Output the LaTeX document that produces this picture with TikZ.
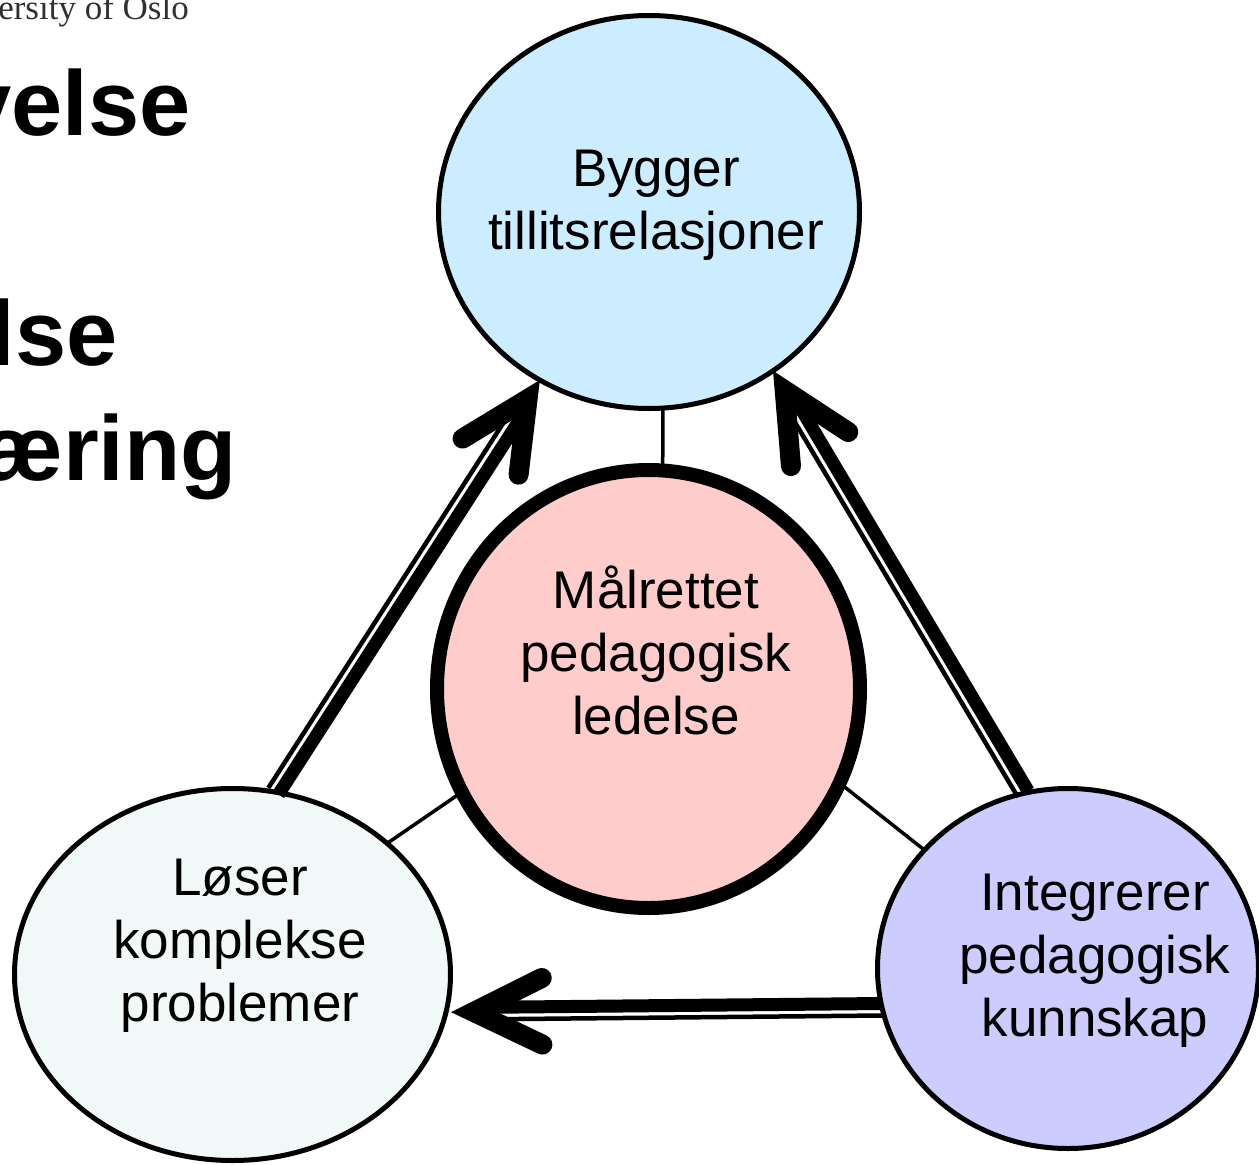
\documentclass[tikz,border=0pt]{standalone}
\usepackage{fontspec}
\setmainfont{Liberation Sans}
\newfontfamily\oslofont{Liberation Serif}
\usetikzlibrary{shapes.geometric,calc}
\definecolor{topfill}{HTML}{CCECFF}
\definecolor{midfill}{HTML}{FFCCCC}
\definecolor{leftfill}{HTML}{F0F8F8}
\definecolor{rightfill}{HTML}{CCCCFF}
\definecolor{oslogray}{HTML}{303030}
\tikzset{
  bubble/.style={ellipse, draw=black, inner sep=0pt, outer sep=0pt},
  link/.style={draw=black, line width=3.5pt},
  thickln/.style={draw=black, line width=13pt},
  thinln/.style={draw=black, line width=4.5pt},
  headln/.style={draw=black, line width=20pt, line cap=round, line join=miter},
  lbl/.style={anchor=base, inner sep=0pt, font=\fontsize{53}{63}\selectfont},
  bigtxt/.style={anchor=base east, inner sep=0pt, font=\fontsize{92}{110}\selectfont\bfseries},
}
\newcommand\dblarrow[2]{%
  \draw[thickln] ($(#1)!4.5pt!-90:(#2)$) -- ($(#2)!24pt!(#1)!4.5pt!90:(#1)$);
  \draw[thinln] ($(#1)!7.5pt!90:(#2)$) -- ($(#2)!40pt!(#1)!7.5pt!-90:(#1)$);
  \draw[headln] ($(#2)!22.8pt!(#1)!76pt!26:(#1)$) -- ($(#2)!22.8pt!(#1)$) -- ($(#2)!22.8pt!(#1)!76pt!-26:(#1)$);
}
\begin{document}
\begin{tikzpicture}[x=1pt,y=-1pt]
\useasboundingbox (0,0) rectangle (1259,1165);
\clip (0,0) rectangle (1259,1165);

% partial slide text at the left edge
\node[anchor=base east, inner sep=0pt, text=oslogray, font=\oslofont\fontsize{35}{42}\selectfont] (uio) at (189,19) {ersity of Oslo};
\node[bigtxt] (w1) at (191,135) {velse};
\node[bigtxt] (w2) at (118,365) {lse};
\node[bigtxt] (w3) at (237,480) {æring};

% coordinates of the ellipse centres
\coordinate (ctop) at (649,212);
\coordinate (cmid) at (648.5,689);
\coordinate (cleft) at (232.5,974.5);
\coordinate (cright) at (1068,968.5);

% thin links behind the circles
\draw[link] ([xshift=14pt]ctop) -- ([xshift=14pt]cmid);
\draw[link] ([yshift=25pt]cmid) -- ([yshift=25pt]cleft);
\draw[link] ([yshift=57pt]cmid) -- ([yshift=5pt]cright);

% circles
\node[bubble, fill=topfill, line width=5pt, minimum width=421pt, minimum height=393pt] (top) at (ctop) {};
\node[bubble, fill=midfill, line width=14pt, minimum width=423pt, minimum height=438pt] (mid) at (cmid) {};
\node[bubble, fill=leftfill, line width=5pt, minimum width=436pt, minimum height=372pt] (left) at (cleft) {};
\node[bubble, fill=rightfill, line width=5pt, minimum width=381pt, minimum height=360pt] (right) at (cright) {};

% labels
\node[lbl] (ttop) at (656,186) {\begin{tabular}[t]{@{}c@{}}Bygger\\tillitsrelasjoner\end{tabular}};
\node[lbl] (tmid) at (656,608) {\begin{tabular}[t]{@{}c@{}}Målrettet\\pedagogisk\\ledelse\end{tabular}};
\node[lbl] (tleft) at (240,895) {\begin{tabular}[t]{@{}c@{}}Løser\\komplekse\\problemer\end{tabular}};
\node[lbl] (tright) at (1095,910) {\begin{tabular}[t]{@{}c@{}}Integrerer\\pedagogisk\\kunnskap\end{tabular}};

% double arrows
\coordinate (ltip) at ([xshift=5pt]left.350);
\dblarrow{left.77}{top.237}
\dblarrow{right.104}{top.308}
\dblarrow{right.192}{ltip}
\end{tikzpicture}
\end{document}
